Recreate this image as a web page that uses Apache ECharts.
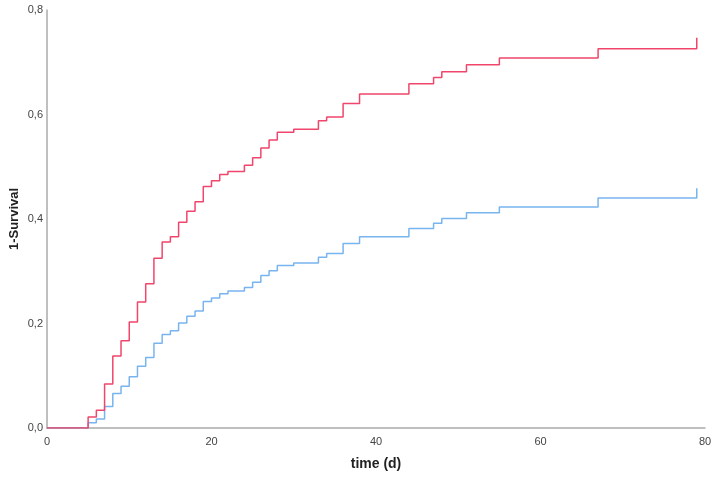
<!DOCTYPE html>
<html>
<head>
<meta charset="utf-8">
<script src="https://cdn.jsdelivr.net/npm/echarts@6/dist/echarts.min.js"></script>
<style>html,body{margin:0;padding:0;background:#fff}#c{width:713px;height:483px}</style>
</head>
<body>
<div id="c"></div>
<script>
const times = [0,5,6,7,8,9,10,11,12,13,14,15,16,17,18,19,20,21,22,24,25,26,27,28,30,33,34,36,38,44,47,48,51,55,67,79];
const redValues = [0,0.021,0.034,0.084,0.138,0.167,0.203,0.241,0.276,0.325,0.356,0.366,0.394,0.415,0.433,0.462,0.473,0.485,0.491,0.503,0.517,0.536,0.551,0.566,0.572,0.588,0.595,0.621,0.639,0.659,0.671,0.682,0.695,0.708,0.726,0.747];
const blueValues = [0,0.010,0.017,0.041,0.066,0.080,0.098,0.118,0.135,0.162,0.179,0.186,0.201,0.214,0.224,0.242,0.249,0.257,0.262,0.269,0.279,0.292,0.301,0.311,0.316,0.327,0.334,0.353,0.366,0.382,0.392,0.401,0.412,0.423,0.440,0.459];

const chart = echarts.init(document.getElementById('c'));
const tickFont = {color:'#444', fontSize:11, fontFamily:'Liberation Sans Narrow, Arial Narrow, Liberation Sans, sans-serif'};
chart.setOption({
  animation:false,
  grid:{left:47,right:8,top:10,bottom:55,containLabel:false,outerBoundsMode:'none'},
  xAxis:{
    type:'value', min:0, max:80, interval:20,
    name:'time (d)', nameLocation:'middle', nameGap:29, nameMoveOverlap:false,
    nameTextStyle:{fontWeight:'bold', fontSize:14, color:'#222', fontFamily:'Liberation Sans Narrow, Arial Narrow, Liberation Sans, sans-serif'},
    axisLine:{lineStyle:{color:'#aaa', width:1.5}},
    axisTick:{show:false}, splitLine:{show:false},
    axisLabel:Object.assign({margin:8}, tickFont)
  },
  yAxis:{
    type:'value', min:0, max:0.8, interval:0.2,
    name:'1-Survival', nameLocation:'middle', nameGap:26, nameMoveOverlap:false,
    nameTextStyle:{fontWeight:'bold', fontSize:13, color:'#222', fontFamily:'Liberation Sans, Arial, sans-serif'},
    axisLine:{show:true, lineStyle:{color:'#aaa', width:1.5}},
    axisTick:{show:false}, splitLine:{show:false},
    axisLabel:Object.assign({margin:4, formatter:v=>v.toFixed(1).replace('.',',')}, tickFont)
  },
  series:[
    {type:'line', step:'end', symbol:'none', data:times.map((t,i)=>[t,blueValues[i]]), lineStyle:{color:'#78B4EE', width:1.5}, z:2},
    {type:'line', step:'end', symbol:'none', data:times.map((t,i)=>[t,redValues[i]]), lineStyle:{color:'#F0466B', width:1.5}, z:3}
  ]
});
</script>
</body>
</html>
